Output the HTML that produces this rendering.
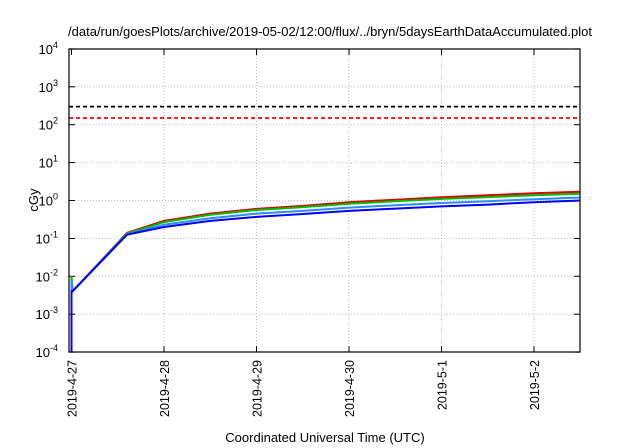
<!DOCTYPE html>
<html><head><meta charset="utf-8"><style>
html,body{margin:0;padding:0;background:#fff;}
svg{display:block;font-family:"Liberation Sans",Arial,sans-serif;}
</style></head><body>
<svg id="chart" width="640" height="448" viewBox="0 0 640 448">
<text x="330" y="36" font-size="13" text-anchor="middle">/data/run/goesPlots/archive/2019-05-02/12:00/flux/../bryn/5daysEarthDataAccumulated.plot</text>
<text x="0" y="0" font-size="13" text-anchor="middle" transform="translate(38,200) rotate(-90)">cGy</text>
<text x="325" y="442" font-size="13" text-anchor="middle">Coordinated Universal Time (UTC)</text>
<g id="grid"></g><g id="ticks"></g><g id="series"></g>
<rect x="69" y="49" width="511" height="303" fill="none" stroke="#000" stroke-width="1.2"/>
</svg>
<script>
const dayLabels=["2019-4-27","2019-4-28","2019-4-29","2019-4-30","2019-5-1","2019-5-2"];
const yExps=[-4,-3,-2,-1,0,1,2,3,4];
const times=[0,0,0.01,0.6,1,1.5,2,2.5,3,3.5,4,4.5,5,5.5];
const redVals=[0.0001,0.01,0.004,0.14,0.29,0.45,0.6,0.72,0.9,1.05,1.22,1.38,1.55,1.7];
const greenVals=[0.0001,0.01,0.004,0.135,0.27,0.42,0.56,0.67,0.82,0.96,1.1,1.23,1.38,1.5];
const lightBlueVals=[0.0001,0.008,0.004,0.13,0.23,0.34,0.45,0.53,0.65,0.75,0.86,0.96,1.08,1.2];
const blueVals=[0.0001,0.004,0.004,0.125,0.2,0.29,0.37,0.44,0.53,0.61,0.7,0.78,0.9,1.0];
const thresholds=[300,150];
const NS="http://www.w3.org/2000/svg";
const X=d=>71.5+92.5*d;
const Y=v=>200.5-37.9*Math.log10(v);
function mk(t,a,parent){const e=document.createElementNS(NS,t);for(const k in a)e.setAttribute(k,a[k]);document.getElementById(parent).appendChild(e);return e;}
yExps.forEach(p=>{const y=Y(Math.pow(10,p));
 if(p>-4&&p<4){const g=mk('line',{x1:69,x2:580,y1:y,y2:y,stroke:'#bbb','stroke-dasharray':'1,2'},'grid');
 
 }
 const t1=mk('line',{x1:69,x2:75,y1:y,y2:y,stroke:'#000'},'ticks');
 
 
 mk('line',{x1:574,x2:580,y1:y,y2:y,stroke:'#000'},'ticks');
 const t=mk('text',{x:58,y:y+5,'font-size':13,'text-anchor':'end'},'ticks');
 
 
 t.innerHTML='10<tspan dy="-6" font-size="9">'+p+'</tspan>';});
dayLabels.forEach((l,i)=>{const x=X(i);
 if(i>0){const g=mk('line',{x1:x,x2:x,y1:49,y2:352,stroke:'#bbb','stroke-dasharray':'1,2'},'grid');
 
 }
 mk('line',{x1:x,x2:x,y1:346,y2:352,stroke:'#000'},'ticks');
 mk('line',{x1:x,x2:x,y1:49,y2:55,stroke:'#000'},'ticks');
 const t=mk('text',{x:0,y:0,'font-size':12.5,'text-anchor':'end',transform:`translate(${x+5},360) rotate(-90)`},'ticks');
 
 
 t.textContent=l;});
const thrColors=['#000','#f00'];
thresholds.forEach((v,i)=>{const l=mk('line',{x1:69,x2:580,y1:Y(v),y2:Y(v),stroke:thrColors[i],'stroke-width':1.8,'stroke-dasharray':'4,3'},'series');
 
 });
[[redVals,'#e00000','red-series'],[greenVals,'#00bb00','green-series'],[lightBlueVals,'#2a8cff','lightblue-series'],[blueVals,'#0000ff','blue-series']].forEach(([vals,c,n])=>{
 const pts=vals.map((v,i)=>X(times[i]).toFixed(1)+','+Y(v).toFixed(1)).join(' ');
 const p=mk('polyline',{points:pts,fill:'none',stroke:c,'stroke-width':2},'series');
 
 });
</script>
</body></html>
